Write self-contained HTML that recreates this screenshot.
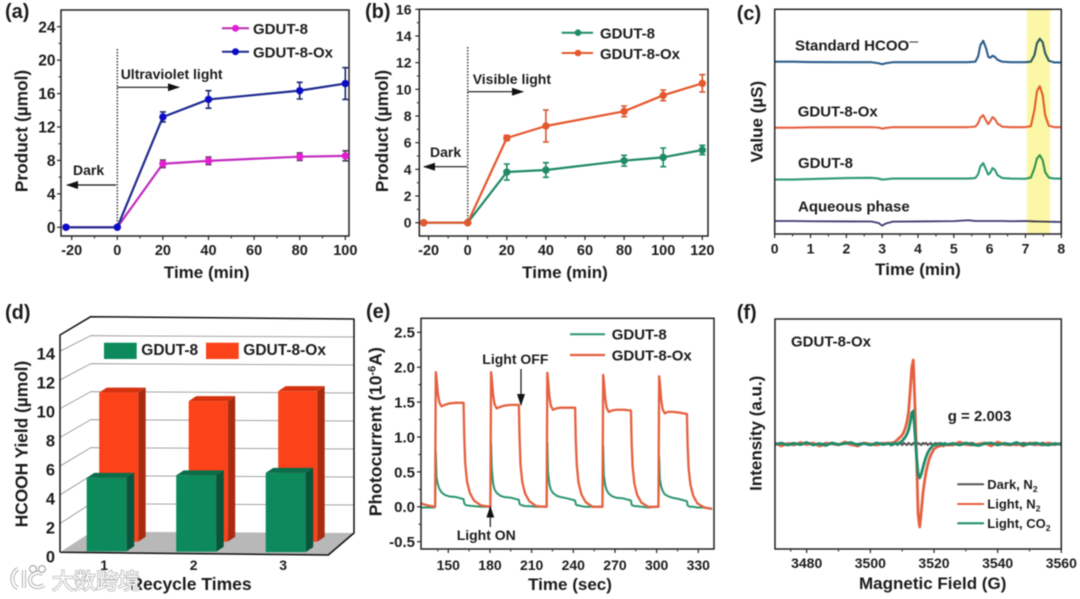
<!DOCTYPE html>
<html lang="en">
<head>
<meta charset="utf-8">
<title>GDUT-8 photocatalysis figure</title>
<style>
html,body{margin:0;padding:0;background:#fff;width:1080px;height:599px;overflow:hidden}
#fig{display:block;filter:blur(.5px)}
text{font-family:"Liberation Sans","Noto Sans CJK SC",sans-serif;font-weight:bold;fill:#1c1c1c}
path{stroke-linejoin:round}
.frame{fill:none;stroke:#222;stroke-width:1.5}
.t14{font-size:14px}.t15{font-size:15px}.t17{font-size:17px}.t13{font-size:13px}
.panel{font-size:20px;font-weight:bold}
.wm{font-size:22px;font-weight:400;fill:#fff;stroke:#a8a8a8;stroke-width:1.3px;paint-order:stroke}
</style>
</head>
<body>
<svg id="fig" xmlns="http://www.w3.org/2000/svg" width="1080" height="599" viewBox="0 0 1080 599">
<defs>
<marker id="ah" markerWidth="12" markerHeight="8" refX="11" refY="4" orient="auto" markerUnits="userSpaceOnUse"><path d="M0 0L12 4L0 8Z" fill="#111"/></marker>
<filter id="soft" x="-20%" y="0%" width="140%" height="100%"><feGaussianBlur stdDeviation="0.8 0"/></filter>
</defs>

<!-- panel a -->
<g id="pa">
<text class="panel" x="5" y="18">(a)</text>
<rect class="frame" x="61" y="10" width="288" height="226"/>
<line x1="117.3" y1="49" x2="117.3" y2="227" stroke="#222" stroke-width="1.3" stroke-dasharray="1.5 1.5"/>
<line x1="117.3" y1="87.3" x2="179" y2="87.3" stroke="#111" stroke-width="1.2" marker-end="url(#ah)"/>
<line x1="116" y1="185" x2="67" y2="185" stroke="#111" stroke-width="1.2" marker-end="url(#ah)"/>
<text class="t14" x="120.7" y="79">Ultraviolet light</text>
<text class="t14" x="73" y="175">Dark</text>
<text class="t17" style="font-size:17.3px" transform="translate(27.5,131) rotate(-90)" text-anchor="middle">Product (µmol)</text>
<text class="t17" x="206.7" y="278" text-anchor="middle">Time (min)</text>
<line x1="222" y1="28.3" x2="249" y2="28.3" stroke="#b52db0" stroke-width="2"/>
<circle cx="235.5" cy="28.3" r="3.5" fill="#e41fd2"/>
<text class="t15" x="253" y="34">GDUT-8</text>
<line x1="222" y1="51.7" x2="249" y2="51.7" stroke="#1d2a90" stroke-width="2"/>
<circle cx="235.5" cy="51.7" r="3.5" fill="#0c0cc8"/>
<text class="t15" x="253" y="57.5">GDUT-8-Ox</text>
</g>

<!-- panel b -->
<g id="pb">
<text class="panel" x="365" y="18">(b)</text>
<rect class="frame" x="419.3" y="9.3" width="288.7" height="226.7"/>
<line x1="467.7" y1="47" x2="467.7" y2="222" stroke="#222" stroke-width="1.3" stroke-dasharray="1.5 1.5"/>
<line x1="467.7" y1="91.7" x2="523" y2="91.7" stroke="#111" stroke-width="1.2" marker-end="url(#ah)"/>
<line x1="467" y1="166.7" x2="424" y2="166.7" stroke="#111" stroke-width="1.2" marker-end="url(#ah)"/>
<text class="t14" x="472.7" y="84">Visible light</text>
<text class="t14" x="430" y="157">Dark</text>
<text class="t17" style="font-size:17.3px" transform="translate(388,131) rotate(-90)" text-anchor="middle">Product (µmol)</text>
<text class="t17" x="565" y="278" text-anchor="middle">Time (min)</text>
<line x1="561.7" y1="32.7" x2="593" y2="32.7" stroke="#1f8a68" stroke-width="2"/>
<circle cx="578" cy="32.7" r="3.3" fill="#1f8a68"/>
<text class="t15" x="600" y="38.5">GDUT-8</text>
<line x1="561.7" y1="53" x2="593" y2="53" stroke="#e5572d" stroke-width="2"/>
<circle cx="578" cy="53" r="3.3" fill="#e5572d"/>
<text class="t15" x="600" y="59">GDUT-8-Ox</text>
</g>

<!-- panel c -->
<g id="pc">
<text class="panel" x="736.7" y="20">(c)</text>
<g id="cTraces"></g>
<rect x="1027" y="9.3" width="23" height="224.7" fill="#fbf7a6" filter="url(#soft)" style="mix-blend-mode:multiply"/>
<rect class="frame" x="774.7" y="9.3" width="286.6" height="224.7"/>
<text class="t15" x="795" y="50.7">Standard HCOO<tspan font-size="9" dy="-6">—</tspan></text>
<text class="t15" x="797.7" y="116.7">GDUT-8-Ox</text>
<text class="t15" x="798" y="168">GDUT-8</text>
<text class="t15" x="798" y="211.7">Aqueous phase</text>
<text class="t17" transform="translate(762.5,121.7) rotate(-90)" text-anchor="middle">Value (µS)</text>
<text class="t17" x="918" y="275" text-anchor="middle">Time (min)</text>
</g>

<!-- panel d -->
<g id="pd">
<text class="panel" x="5" y="319">(d)</text>
<polygon points="91.7,531.7 353.3,533 328.3,555 60,552.3" fill="#b8b8b8"/>
<g id="dGrid"></g>
<path d="M60 552.3V335L90.7 316.7L354 319V533L328.3 555L60 552.3" fill="none" stroke="#111" stroke-width="1.5"/>
<g id="dBars"></g>
<rect x="104" y="342.7" width="32.7" height="16.3" fill="#0c8a5c"/>
<text class="t15" style="font-size:15.5px" x="141.3" y="355">GDUT-8</text>
<rect x="206" y="342.7" width="32.7" height="16.3" fill="#fb4219"/>
<text class="t15" style="font-size:15.5px" x="243.3" y="355">GDUT-8-Ox</text>
<text class="t17" style="font-size:17.3px" transform="translate(27.5,444) rotate(-90)" text-anchor="middle">HCOOH Yield (µmol)</text>
<text class="t17" style="font-size:17.5px" x="191" y="590" text-anchor="middle">Recycle Times</text>
</g>

<!-- panel e -->
<g id="pe">
<text class="panel" x="366" y="318">(e)</text>
<g id="eTraces"></g>
<rect class="frame" x="421" y="318.3" width="293" height="230.7"/>
<line x1="570" y1="334.3" x2="605" y2="334.3" stroke="#2d9570" stroke-width="2"/>
<text class="t15" x="611.7" y="339.5">GDUT-8</text>
<line x1="570" y1="355" x2="605" y2="355" stroke="#e5603f" stroke-width="2.2"/>
<text class="t15" x="611.7" y="360.5">GDUT-8-Ox</text>
<text class="t14" x="482.3" y="364">Light OFF</text>
<line x1="521" y1="369" x2="521" y2="405" stroke="#111" stroke-width="1.2" marker-end="url(#ah)"/>
<text class="t14" x="456.7" y="540">Light ON</text>
<line x1="490.3" y1="527" x2="490.3" y2="506.7" stroke="#111" stroke-width="1.2" marker-end="url(#ah)"/>
<text class="t17" style="font-size:17.6px" transform="translate(381.5,431.7) rotate(-90)" text-anchor="middle">Photocurrent (10<tspan font-size="11" dy="-6">-6</tspan><tspan dy="6">A)</tspan></text>
<text class="t17" x="570" y="590" text-anchor="middle">Time (sec)</text>
</g>

<!-- panel f -->
<g id="pf">
<text class="panel" x="736.7" y="319">(f)</text>
<g id="fTraces"></g>
<rect class="frame" x="775" y="319" width="286.3" height="230"/>
<text class="t15" x="791" y="346.7">GDUT-8-Ox</text>
<text class="t15" x="947.7" y="421">g = 2.003</text>
<line x1="957.3" y1="484.3" x2="984" y2="484.3" stroke="#555" stroke-width="2"/>
<text class="t13" x="987.3" y="489">Dark, N<tspan font-size="8.5" dy="3">2</tspan></text>
<line x1="957.3" y1="504" x2="984" y2="504" stroke="#e5603f" stroke-width="2"/>
<text class="t13" x="987.3" y="508.7">Light, N<tspan font-size="8.5" dy="3">2</tspan></text>
<line x1="957.3" y1="523.3" x2="984" y2="523.3" stroke="#1f8a68" stroke-width="2"/>
<text class="t13" x="987.3" y="528">Light, CO<tspan font-size="8.5" dy="3">2</tspan></text>
<text class="t17" transform="translate(761.5,433.3) rotate(-90)" text-anchor="middle">Intensity (a.u.)</text>
<text class="t17" x="932.7" y="589" text-anchor="middle">Magnetic Field (G)</text>
</g>

<!-- watermark -->
<g>
<path d="M18 569C11 572 10 585 18 588M24 570V588M43 574C36 570 29 576 30 581C31 587 38 589 44 585" fill="none" stroke="#aaa" stroke-width="4"/>
<path d="M18 569C11 572 10 585 18 588M24 570V588M43 574C36 570 29 576 30 581C31 587 38 589 44 585" fill="none" stroke="#fff" stroke-width="2.2"/>
<circle cx="33" cy="569" r="3.4" fill="#fff" stroke="#aaa" stroke-width="1.2"/>
<circle cx="42" cy="569" r="3.4" fill="#fff" stroke="#aaa" stroke-width="1.2"/>
<text class="wm" x="52" y="589">大数跨境</text>
</g>
</svg>

<script>
/* ---------- panel (a) data ---------- */
const aTimes = [-22.5, 0, 20, 40, 80, 100];
const aGdut8 = [0, 0, 7.6, 7.95, 8.45, 8.55];
const aGdut8Err = [0, 0, 0.45, 0.45, 0.45, 0.6];
const aGdut8Ox = [0, 0, 13.2, 15.3, 16.35, 17.2];
const aGdut8OxErr = [0, 0, 0.6, 1.05, 1.0, 1.9];
const aYTicks = [0, 4, 8, 12, 16, 20, 24];
const aXTicks = [-20, 0, 20, 40, 60, 80, 100];

/* ---------- panel (b) data ---------- */
const bTimes = [-22.5, 0, 20, 40, 80, 100, 120];
const bGdut8 = [0, 0, 3.8, 3.95, 4.65, 4.9, 5.45];
const bGdut8Err = [0, 0, 0.6, 0.55, 0.4, 0.7, 0.35];
const bGdut8Ox = [0, 0, 6.35, 7.25, 8.35, 9.55, 10.45];
const bGdut8OxErr = [0, 0, 0.2, 1.2, 0.4, 0.4, 0.65];
const bYTicks = [0, 2, 4, 6, 8, 10, 12, 14, 16];
const bXTicks = [-20, 0, 20, 40, 60, 80, 100, 120];

/* ---------- panel (c) data ---------- */
const cXTicks = [0, 1, 2, 3, 4, 5, 6, 7, 8];
const cTimes = [0,0.5,1,2,2.7,2.9,3,3.1,3.3,4,5,5.4,5.6,5.68,5.74,5.82,5.9,5.96,6.02,6.08,6.14,6.22,6.35,6.6,7,7.15,7.25,7.32,7.4,7.48,7.55,7.65,7.8,8];
const cStandard = [172.5,172.5,172.2,172,172,171,170,171,172,172,172,172,172.5,178,189,193.5,186,177.5,176.5,178.5,177.5,174.5,172.5,172,172,172.5,179,191,195.5,192,181,173.5,171.8,171.8];
const cGdut8Ox = [106.5,106.5,106.8,107,107,106.5,105.5,106.2,107,107,107,107,107.5,111,116.5,119,113.5,110,113,117,115.5,110.5,107.5,107,107,108,124,143,148,139,119,108.5,107,107];
const cGdut8 = [54.5,54.5,55,56,56.3,55.5,54.5,54.8,55.5,55.5,55.5,55.5,56,60,67.5,71,64.5,59.5,61.5,66,64.5,59,56,55.5,55.3,56.5,66,75.5,79,74,62,56.5,55.5,55.5];
const cAqueous = [13,13,12.8,12.6,12.5,11,8.3,10.5,12.4,12.6,12.9,13.8,13,13,13,13,13,13,13,13,13,13,13,12.8,13,12.8,12.6,12.5,12.5,12.4,12.4,12.3,12.2,12];

/* ---------- panel (d) data ---------- */
const dCategories = ["1", "2", "3"];
const dGdut8 = [5.1, 5.3, 5.5];
const dGdut8Ox = [10.5, 9.9, 10.6];
const dYTicks = [0, 2, 4, 6, 8, 10, 12, 14];

/* ---------- panel (e) data ---------- */
const eYTicks = ["-0.5", "0.0", "0.5", "1.0", "1.5", "2.0", "2.5"];
const eXTicks = [150, 180, 210, 240, 270, 300, 330];
const eTimes = [130,135,140,
140.5,141,141.5,142.5,143.5,145,147.5,150.5,155.5,161,161.5,162.2,163.5,165.5,168.5,173.5,
180.3,180.8,181.3,182.3,183.3,184.8,187.3,190.3,195.3,200.8,201.3,202,203.3,205.3,208.3,213.3,
220.8,221.3,221.8,222.8,223.8,225.3,227.8,230.8,235.8,241.3,241.8,242.5,243.8,245.8,248.8,253.8,
261,261.5,262,263,264,265.5,268,271,276,281.5,282,282.7,284,286,289,294,
301.3,301.8,302.3,303.3,304.3,305.8,308.3,311.3,316.3,321.8,322.3,323,324.3,326.3,329.3,334.3,
340];
const eGdut8Ox = [0.05,0.02,0,
0,1.93,1.85,1.62,1.5,1.44,1.46,1.48,1.49,1.49,1.0,0.62,0.36,0.2,0.09,0.02,
0,1.93,1.84,1.6,1.47,1.41,1.43,1.45,1.46,1.46,1.0,0.6,0.35,0.19,0.08,0.01,
0,1.92,1.82,1.58,1.45,1.39,1.41,1.42,1.42,1.42,0.95,0.6,0.34,0.18,0.07,0,
0,1.89,1.8,1.55,1.42,1.36,1.38,1.39,1.39,1.38,0.92,0.58,0.33,0.17,0.06,0,
0,1.87,1.78,1.53,1.4,1.34,1.36,1.36,1.35,1.33,0.9,0.56,0.32,0.16,0.05,-0.01,
-0.03];
const eGdut8 = [-0.01,-0.01,-0.01,
0,0.78,0.42,0.32,0.26,0.21,0.17,0.15,0.14,0.11,0.05,0.03,0.02,0.015,0.01,0,
0,0.92,0.55,0.33,0.25,0.2,0.16,0.14,0.13,0.1,0.04,0.03,0.02,0.01,0.01,0,
0,0.92,0.5,0.32,0.25,0.2,0.16,0.14,0.12,0.09,0.04,0.02,0.02,0.01,0,0,
0,0.88,0.45,0.31,0.24,0.19,0.15,0.13,0.12,0.09,0.03,0.02,0.01,0.01,0,-0.01,
0,0.72,0.4,0.29,0.23,0.18,0.15,0.13,0.11,0.08,0.02,0.01,0,0,-0.01,-0.01,
-0.03];

/* ---------- panel (f) data ---------- */
const fXTicks = [3480, 3500, 3520, 3540, 3560];
const fFields = [3470,3472,3474,3476,3478,3480,3482,3484,3486,3488,3490,3492,3494,3496,3498,3500,3502,3504,
3506,3506.5,3507,3507.5,3508,3508.5,3509,3509.5,3510,3510.5,3511,3511.5,3512,3512.5,3513,3513.5,3514,3514.5,3515,3515.5,3516,3516.5,3517,3517.5,3518,3518.5,3519,3519.5,3520,3520.5,3521,3521.5,3522,3522.5,3523,3523.5,3524,
3526,3528,3530,3532,3534,3536,3538,3540,3542,3544,3546,3548,3550,3552,3554,3556,3558,3560];
const fDark = [1,-1,0,1,-1,1,0,-1,1,0,-1,1,-1,0,1,-1,0,1,
0,1,-1,0,1,-1,0,1,-1,1,0,-1,1,0,-1,1,0,-1,1,0,-1,1,0,1,-1,0,1,-1,0,1,0,-1,1,-1,0,1,-1,
1,-1,0,1,-1,0,1,-1,1,0,-1,1,0,-1,1,0,-1,1];
const fLightN2 = [1,-2,0.5,-1,1.5,-0.5,1,-2,0,1,-1,2,-0.5,-2,1,0,-1,0.5,
1,-1,1.5,1,3,4,6,7,9,12,16,22,32,52,76,84,40,-10,-70,-83,-68,-50,-38,-28,-21,-15,-11,-8,-5,-4,-3,-2,-2,-1,-2,0,-1,
-1,2,-0.5,-1,0,1,-2,2,-0.5,-1,0.5,-2,1,0,-1,1,-0.5,0.5];
const fLightCO2 = [-0.5,1,-1,0.5,-0.5,1.5,-1,0.5,-1.5,1,-0.5,0.5,1.5,-1,0.5,-1,1,-0.5,
0.5,-1,0.5,0,1,-0.5,1,2,3,5,7,10,14,21,31,33,12,-12,-30,-34,-30,-24,-18,-13,-9,-6,-4,-2,-1,-1,0,0.5,-0.5,0.5,-1,0.5,-0.5,
0.5,-1,1,-0.5,-1.5,0.5,1,-1,0.5,-0.5,1.5,-1,0,1,-0.5,-1,0.5,-0.5];

/* ---------- helpers ---------- */
const NS = "http://www.w3.org/2000/svg";
function mk(tag, attrs, parent) {
  const el = document.createElementNS(NS, tag);
  for (const k in attrs) el.setAttribute(k, attrs[k]);
  parent.appendChild(el);
  return el;
}
function pathOf(xs, ys, sx, sy) {
  return xs.map((x, i) => (i ? "L" : "M") + sx(x).toFixed(2) + " " + sy(ys[i]).toFixed(2)).join("");
}
function linear(d0, d1, r0, r1) {
  return v => r0 + (v - d0) * (r1 - r0) / (d1 - d0);
}
function xTicks(parent, vals, sx, axisY, baseline, fs) {
  vals.forEach(v => {
    const t = mk("line", {x1: sx(v), x2: sx(v), y1: axisY, y2: axisY + 4, stroke: "#222", "stroke-width": 1.2}, parent);
    
    
    const l = mk("text", {x: sx(v), y: baseline, "text-anchor": "middle", "font-size": fs}, parent);
    
    
    l.textContent = v;
  });
}
function minorX(parent, vals, sx, axisY) {
  for (let i = 0; i < vals.length - 1; i++) {
    const m = (Number(vals[i]) + Number(vals[i + 1])) / 2;
    const t = mk("line", {x1: sx(m), x2: sx(m), y1: axisY, y2: axisY + 2.5, stroke: "#222", "stroke-width": 1}, parent);
    
    
  }
}
function yTicks(parent, vals, sy, axisX, labelX, fs) {
  vals.forEach(v => {
    const n = Number(v);
    const t = mk("line", {x1: axisX - 4, x2: axisX, y1: sy(n), y2: sy(n), stroke: "#222", "stroke-width": 1.2}, parent);
    
    
    const l = mk("text", {x: labelX, y: sy(n) + fs * 0.36, "text-anchor": "end", "font-size": fs}, parent);
    
    
    l.textContent = v;
  });
  for (let i = 0; i < vals.length - 1; i++) {
    const m = (Number(vals[i]) + Number(vals[i + 1])) / 2;
    const t = mk("line", {x1: axisX - 2.5, x2: axisX, y1: sy(m), y2: sy(m), stroke: "#222", "stroke-width": 1}, parent);
    
    
  }
}
function markerSeries(parent, xs, ys, errs, sx, sy, lineColor, dotColor, errColor, seriesName) {
  const line = mk("path", {d: pathOf(xs, ys, sx, sy), fill: "none", stroke: lineColor, "stroke-width": 2.2}, parent);
  
  
  xs.forEach((x, i) => {
    if (errs[i] > 0) {
      const cx = sx(x), hi = sy(ys[i] + errs[i]), lo = sy(ys[i] - errs[i]);
      const e = mk("path", {d: `M${cx} ${hi}V${lo}M${cx - 3} ${hi}H${cx + 3}M${cx - 3} ${lo}H${cx + 3}`, fill: "none", stroke: errColor, "stroke-width": 1.6}, parent);
      
      
    }
    const c = mk("circle", {cx: sx(x), cy: sy(ys[i]), r: 3.7, fill: dotColor}, parent);
    
    
  });
}

/* ---------- panel a ---------- */
(function () {
  const g = document.getElementById("pa");
  const sx = linear(0, 100, 117.3, 345.3), sy = linear(0, 24, 227.3, 26.7);
  xTicks(g, aXTicks, sx, 236, 255, 14.5); minorX(g, aXTicks, sx, 236);
  yTicks(g, aYTicks, sy, 61, 55.5, 15.5);
  markerSeries(g, aTimes, aGdut8, aGdut8Err, sx, sy, "#c22cc0", "#e41fd2", "#4c3a55", "gdut-8");
  markerSeries(g, aTimes, aGdut8Ox, aGdut8OxErr, sx, sy, "#1d2a90", "#0c0cc8", "#1d2a70", "gdut-8-ox");
})();

/* ---------- panel b ---------- */
(function () {
  const g = document.getElementById("pb");
  const sx = linear(0, 120, 467.7, 702.3), sy = linear(0, 16, 222.7, 9.3);
  xTicks(g, bXTicks, sx, 236, 255, 14.5); minorX(g, bXTicks, sx, 236);
  yTicks(g, bYTicks, sy, 419.3, 411.5, 14);
  markerSeries(g, bTimes, bGdut8, bGdut8Err, sx, sy, "#1f8a68", "#1f8a68", "#1f8a68", "gdut-8");
  markerSeries(g, bTimes, bGdut8Ox, bGdut8OxErr, sx, sy, "#e5572d", "#e5572d", "#d8552f", "gdut-8-ox");
})();

/* ---------- panel c ---------- */
(function () {
  const g = document.getElementById("pc"), tg = document.getElementById("cTraces");
  const sx = linear(0, 8, 774.7, 1061.3), sy = linear(0, 225, 234, 9.3);
  xTicks(g, cXTicks, sx, 234, 253.5, 14); minorX(g, cXTicks, sx, 234);
  const std = mk("path", {d: pathOf(cTimes, cStandard, sx, sy), fill: "none", stroke: "#2b5e8c", "stroke-width": 2.1}, tg);
  
  
  const ox = mk("path", {d: pathOf(cTimes, cGdut8Ox, sx, sy), fill: "none", stroke: "#e5603f", "stroke-width": 2.1}, tg);
  
  
  const g8 = mk("path", {d: pathOf(cTimes, cGdut8, sx, sy), fill: "none", stroke: "#2f9a72", "stroke-width": 2.1}, tg);
  
  
  const aq = mk("path", {d: pathOf(cTimes, cAqueous, sx, sy), fill: "none", stroke: "#3e3a6e", "stroke-width": 1.8}, tg);
  
  
})();

/* ---------- panel d ---------- */
(function () {
  const gridG = document.getElementById("dGrid"), barG = document.getElementById("dBars"), g = document.getElementById("pd");
  const backY = v => 531.7 - v * 14;
  const frontY = v => 552.3 - v * 14.36;
  const labelY = v => 556.7 - v * 14.5;
  dYTicks.forEach(v => {
    if (v > 0) {
      const l = mk("path", {d: `M60 ${frontY(v)}L90.7 ${backY(v)}L354 ${backY(v) + 1.3}`, fill: "none", stroke: "#888", "stroke-width": 0.8}, gridG);
      
      
    }
    const t = mk("text", {x: 55, y: labelY(v) + 6, "text-anchor": "end", "font-size": 16.5}, g);
    
    
    t.textContent = v;
  });
  const catX = i => 106.7 + i * 89.5;
  function bar(cx, value, bottom, w, dx, dy, front, top, side, name, scale) {
    const y = bottom - value * scale, l = cx - w / 2, r = cx + w / 2;
    const s = mk("polygon", {points: `${r},${y} ${r + dx},${y - dy} ${r + dx},${bottom - dy} ${r},${bottom}`, fill: side}, barG);
    
    
    const tp = mk("polygon", {points: `${l},${y} ${l + dx},${y - dy} ${r + dx},${y - dy} ${r},${y}`, fill: top}, barG);
    
    
    const f = mk("rect", {x: l, y: y, width: w, height: bottom - y, fill: front}, barG);
    
    
  }
  dCategories.forEach((c, i) => {
    bar(catX(i) + 12, dGdut8Ox[i], 541.7, 39, 7.5, 5, "#fb4219", "#d5330f", "#a92c10", "bar-gdut-8-ox-" + c, 14.2);
  });
  dCategories.forEach((c, i) => {
    bar(catX(i), dGdut8[i], 551.3 + i * 0.4, 40, 7.5, 5, "#0c8a5c", "#0a6e49", "#07553a", "bar-gdut-8-" + c, 14.4);
    const t = mk("text", {x: catX(i) - 2.5, y: 570, "text-anchor": "middle", "font-size": 14}, g);
    
    
    t.textContent = c;
  });
})();

/* ---------- panel e ---------- */
(function () {
  const g = document.getElementById("pe"), tg = document.getElementById("eTraces");
  const sx = linear(150, 330, 448.3, 698.3), sy = linear(0, 2.5, 506.8, 332.3);
  xTicks(g, eXTicks, sx, 549, 570, 14); minorX(g, [135].concat(eXTicks), sx, 549);
  yTicks(g, eYTicks, sy, 421, 415, 15);
  const green = mk("path", {d: pathOf(eTimes, eGdut8, sx, sy), fill: "none", stroke: "#2d9570", "stroke-width": 2}, tg);
  
  
  const red = mk("path", {d: pathOf(eTimes, eGdut8Ox, sx, sy), fill: "none", stroke: "#e5603f", "stroke-width": 2.3}, tg);
  
  
})();

/* ---------- panel f ---------- */
(function () {
  const g = document.getElementById("pf"), tg = document.getElementById("fTraces");
  const sx = linear(3480, 3560, 806.7, 1061.3), sy = linear(0, 100, 444, 344);
  xTicks(g, fXTicks, sx, 549, 568, 14); minorX(g, [3470].concat(fXTicks), sx, 549);
  const d = mk("path", {d: pathOf(fFields, fDark, sx, sy), fill: "none", stroke: "#555", "stroke-width": 2.2}, tg);
  
  
  const r = mk("path", {d: pathOf(fFields, fLightN2, sx, sy), fill: "none", stroke: "#e5603f", "stroke-width": 2.8}, tg);
  
  
  const c = mk("path", {d: pathOf(fFields, fLightCO2, sx, sy), fill: "none", stroke: "#1f8a68", "stroke-width": 2.8}, tg);
  
  
})();
</script>
</body>
</html>
